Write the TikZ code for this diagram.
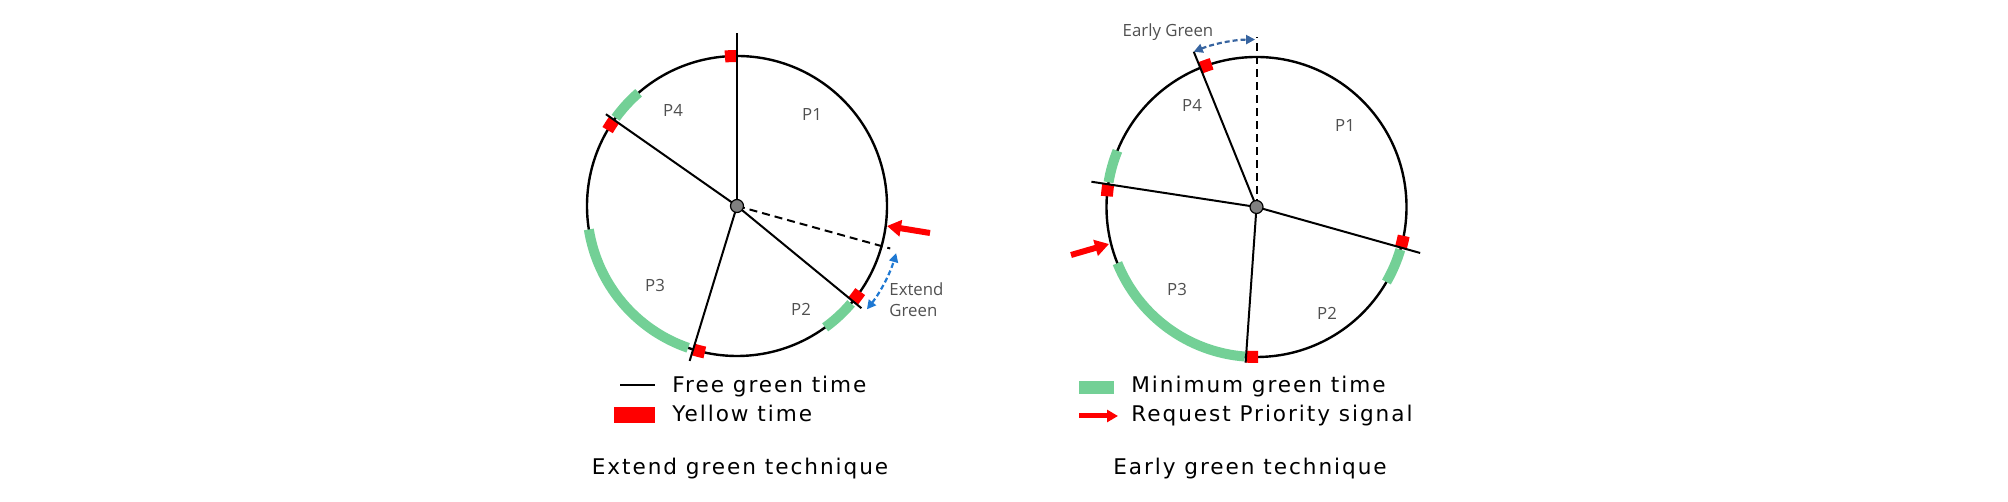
\documentclass[tikz,border=0pt]{standalone}
\usepackage{fontspec}
\setmainfont{DejaVu Sans}
\newfontfamily\legendfont[LetterSpace=9]{DejaVu Sans}
\newfontfamily\labelfont{Open Sans}
\usetikzlibrary{arrows.meta}
\definecolor{mint}{RGB}{115,208,150}
\definecolor{signalred}{RGB}{255,0,0}
\definecolor{labelgray}{RGB}{80,80,80}
\definecolor{extendblue}{RGB}{30,120,210}
\definecolor{earlyblue}{RGB}{55,100,160}

\begin{document}
\begin{tikzpicture}[x=0.5pt,y=0.5pt,
  ring/.style={black,line width=1.2pt},
  phase/.style={black,line width=1pt},
  guide/.style={black,line width=1pt,dash pattern=on 4pt off 2.5pt},
  mingreen/.style={mint,line width=5pt},
  yellowmark/.style={signalred,line width=6pt},
  hub/.style={circle,draw=black,line width=0.6pt,fill=gray,minimum size=6.5pt,inner sep=0pt},
  request/.style={signalred,line width=3pt,-{Triangle[length=7pt,width=8pt]}},
  shift arrow/.style={line width=1.1pt,dash pattern=on 2.5pt off 1.5pt,{Triangle[length=4.5pt,width=4.5pt]}-{Triangle[length=4.5pt,width=4.5pt]}},
  lbl/.style={text=labelgray,font=\labelfont\fontsize{8.4}{10.5}\selectfont,inner sep=0pt},
  legend/.style={font=\legendfont\fontsize{10.8}{12}\selectfont,inner sep=0pt}]
\useasboundingbox (0,0) rectangle (2008,502);

\coordinate (c1) at (737,296);
\draw[ring] (c1) circle (150);
\draw[mingreen] (c1) ++(131:150) arc (131:144:150);
\draw[mingreen] (c1) ++(189:150) arc (189:251:150);
\draw[mingreen] (c1) ++(306:150) arc (306:319.5:150);
\draw[yellowmark] (c1) ++(90:150) arc (90:94.6:150);
\draw[yellowmark] (c1) ++(145:150) arc (145:149.6:150);
\draw[yellowmark] (c1) ++(253:150) arc (253:257.6:150);
\draw[yellowmark] (c1) ++(320.6:150) arc (320.6:325.2:150);
\draw[phase] (c1) -- ++(90:173);
\draw[phase] (c1) -- ++(145:160);
\draw[phase] (c1) -- ++(253:162);
\draw[phase] (c1) -- ++(320.6:161);
\draw[guide] (c1) -- ++(-15.5:159);
\node[hub] (o1) at (c1) {};
\draw[shift arrow,extendblue] (c1) ++(-38.5:166) arc (-38.5:-16.5:166);
\coordinate (r1s) at (930,269);
\coordinate (r1t) at (887,276);
\draw[request] (r1s) -- (r1t);
\node[lbl] (p14) at (673,392) {P4};
\node[lbl] (p11) at (812,387) {P1};
\node[lbl] (p13) at (655,216) {P3};
\node[lbl] (p12) at (801,193) {P2};
\node[lbl,anchor=west,align=left] (ext) at (889,202) {Extend\\Green};

\coordinate (c2) at (1256.5,295);
\draw[ring] (c2) circle (150);
\draw[mingreen] (c2) ++(158:150) arc (158:170.5:150);
\draw[mingreen] (c2) ++(202:150) arc (202:265.5:150);
\draw[mingreen] (c2) ++(330:150) arc (330:343.5:150);
\draw[yellowmark] (c2) ++(107.4:150) arc (107.4:112:150);
\draw[yellowmark] (c2) ++(171.3:150) arc (171.3:175.9:150);
\draw[yellowmark] (c2) ++(266:150) arc (266:270.6:150);
\draw[yellowmark] (c2) ++(344.3:150) arc (344.3:348.9:150);
\draw[phase] (c2) -- ++(112:167.5);
\draw[phase] (c2) -- ++(171.3:167);
\draw[phase] (c2) -- ++(266:156);
\draw[phase] (c2) -- ++(344.3:170);
\draw[guide] (c2) -- ++(90:170);
\node[hub] (o2) at (c2) {};
\draw[shift arrow,earlyblue] (c2) ++(112:167.5) arc (112:90.5:167.5);
\coordinate (r2s) at (1071,247);
\coordinate (r2t) at (1109,258);
\draw[request] (r2s) -- (r2t);
\node[lbl] (p24) at (1192,397) {P4};
\node[lbl] (p21) at (1345,376) {P1};
\node[lbl] (p23) at (1177,212) {P3};
\node[lbl] (p22) at (1327,189) {P2};
\node[lbl] (ear) at (1168,470) {Early Green};

\coordinate (k1a) at (620,117);
\coordinate (k1b) at (655,117);
\draw[black,line width=0.8pt] (k1a) -- (k1b);
\node[legend,anchor=base west] (t1) at (672,109.3) {Free green time};
\node[fill=signalred,minimum width=20.5pt,minimum height=8pt,inner sep=0pt] (k2) at (634.5,87) {};
\node[legend,anchor=base west] (t2) at (672,80) {Yellow time};
\node[fill=mint,minimum width=17.5pt,minimum height=6.5pt,inner sep=0pt] (k3) at (1096.5,114.5) {};
\node[legend,anchor=base west] (t3) at (1131,109.3) {Minimum green time};
\coordinate (k4a) at (1079,86);
\coordinate (k4b) at (1118,86);
\draw[request,line width=2.5pt,-{Triangle[length=5.5pt,width=6pt]}] (k4a) -- (k4b);
\node[legend,anchor=base west] (t4) at (1131,80) {Request Priority signal};
\node[legend,anchor=base] (h1) at (740,27) {Extend green technique};
\node[legend,anchor=base] (h2) at (1250,27) {Early green technique};
\end{tikzpicture}
\end{document}
